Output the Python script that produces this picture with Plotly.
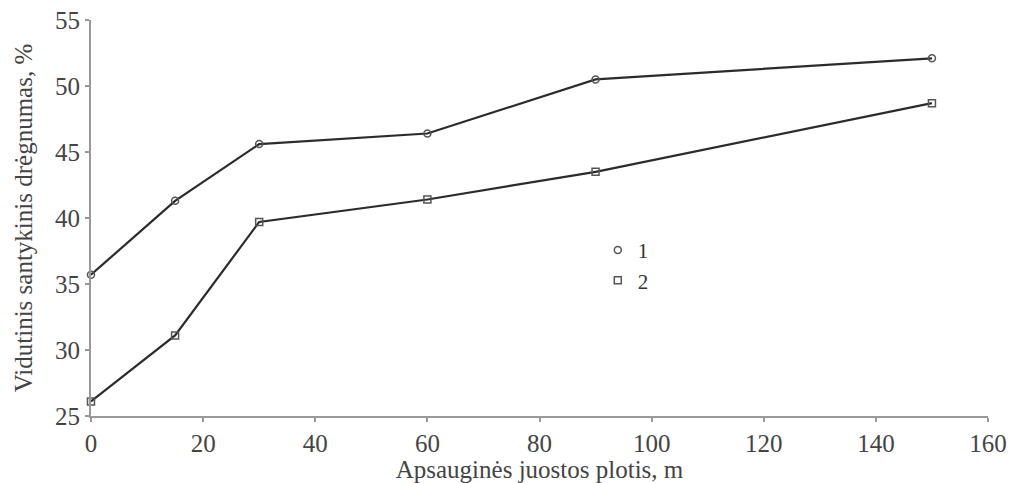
import plotly.graph_objects as go

x_vals = [0, 15, 30, 60, 90, 150]
series1 = [35.7, 41.3, 45.6, 46.4, 50.5, 52.1]
series2 = [26.1, 31.1, 39.7, 41.4, 43.5, 48.7]
names = ["1", "2"]
x_ticks = [0, 20, 40, 60, 80, 100, 120, 140, 160]
y_ticks = [25, 30, 35, 40, 45, 50, 55]

font_family = "Liberation Serif, Times New Roman, serif"
line_col = "#2b2b2b"
mark_col = "#555555"

fig = go.Figure()
for ys, sym in [(series1, "circle-open"), (series2, "square-open")]:
    fig.add_trace(go.Scatter(
        x=x_vals, y=ys, mode="lines+markers",
        line=dict(color=line_col, width=2.2),
        marker=dict(symbol=sym, size=7, color=mark_col, line=dict(width=1.5, color=mark_col)),
        showlegend=False, hoverinfo="x+y", cliponaxis=False))

for nm, sym in zip(names, ["circle-open", "square-open"]):
    fig.add_trace(go.Scatter(
        x=[None], y=[None], mode="markers", name=nm,
        marker=dict(symbol=sym, size=7, color=mark_col, line=dict(width=1.5, color=mark_col)),
        showlegend=True))

fig.update_layout(
    width=1011, height=483,
    margin=dict(l=91, r=23, t=20, b=67),
    paper_bgcolor="white", plot_bgcolor="white",
    font=dict(family=font_family, size=25, color="#444444"),
    showlegend=True,
    legend=dict(x=0.565, y=0.47, xanchor="left", yanchor="top",
                bgcolor="rgba(0,0,0,0)", font=dict(size=21, color="#333333"),
                itemwidth=30, tracegroupgap=0),
)
fig.update_xaxes(
    range=[0, 160], tickvals=x_ticks, ticktext=[str(v) for v in x_ticks],
    showgrid=False, zeroline=False, showline=True, linecolor="#999999", linewidth=2,
    ticks="outside", ticklen=4, tickcolor="#999999", tickwidth=1.5, automargin=False,
    tickfont=dict(size=25, color="#444444"),
    title=dict(text="Apsauginės juostos plotis, m", font=dict(size=25, color="#444444")),
)
fig.update_yaxes(
    range=[25, 55], tickvals=y_ticks, ticktext=[str(v) for v in y_ticks],
    showgrid=False, zeroline=False, showline=True, linecolor="#999999", linewidth=2,
    ticks="outside", ticklen=4, tickcolor="#999999", tickwidth=1.5, automargin=False,
    tickfont=dict(size=25, color="#444444"),
    title=dict(text="Vidutinis santykinis drėgnumas, %", font=dict(size=25, color="#444444")),
)

fig.write_html("out.html")
